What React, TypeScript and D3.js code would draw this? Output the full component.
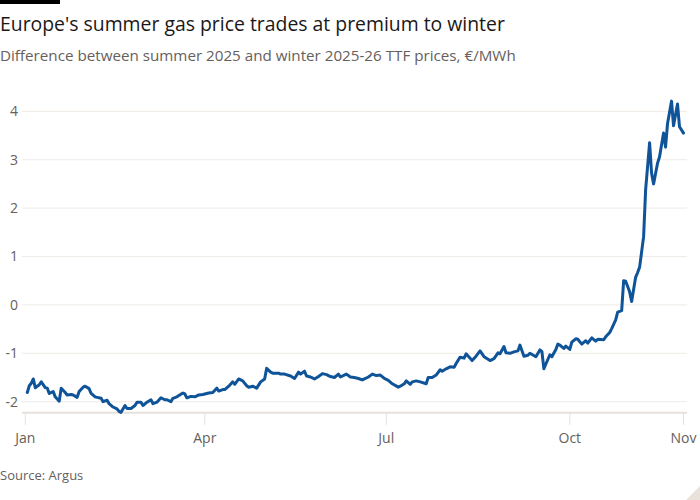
import React from "react";
import * as d3 from "d3";

const title = "Europe's summer gas price trades at premium to winter";
const subtitle = "Difference between summer 2025 and winter 2025-26 TTF prices, €/MWh";
const source = "Source: Argus";

// day offsets from 1 Jan 2025
const dayOffsets = [
  1, 2, 3, 4, 5, 7, 8, 10, 11, 12, 14, 15, 17, 18, 20, 21, 23, 24, 26, 27, 29, 30, 32, 33, 35, 36, 38, 39, 41, 42,
  44, 46, 47, 48, 50, 51, 53, 55, 56, 58, 59, 61, 63, 64, 66, 68, 70, 71, 73, 74, 76, 79, 80, 81, 83, 85, 87, 89, 92, 94,
  96, 97, 99, 100, 102, 104, 105, 107, 109, 111, 112, 114, 116, 118, 120, 121, 123, 124, 127, 128, 130, 133, 135, 137, 138, 140, 141, 143, 145, 147,
  149, 151, 153, 155, 157, 158, 161, 163, 165, 167, 169, 172, 174, 176, 178, 180, 182, 184, 187, 188, 190, 191, 193, 194, 196, 198, 201, 202, 204, 206,
  208, 209, 211, 213, 215, 216, 218, 220, 221, 223, 224, 226, 228, 230, 233, 235, 237, 238, 240, 241, 243, 245, 247, 248, 250, 252, 253, 256, 258, 259,
  260, 261, 263, 264, 266, 267, 268, 270, 271, 273, 274, 276, 277, 279, 281, 282, 284, 286, 287, 290, 291, 293, 294, 296, 297, 299, 300, 301, 303, 304,
  306, 307, 308, 310, 311, 313, 314, 315, 317, 318, 320, 321, 322, 324, 325, 327, 328, 330,
];
const spread = [
  -1.81, -1.67, -1.62, -1.53, -1.71, -1.65, -1.59, -1.71, -1.72, -1.83, -1.79, -1.9, -1.99, -1.72, -1.81, -1.86, -1.85, -1.86, -1.91, -1.79, -1.7, -1.68, -1.73, -1.83, -1.9, -1.91, -1.93, -2.0, -1.97, -2.04,
  -2.11, -2.15, -2.2, -2.22, -2.08, -2.14, -2.14, -2.08, -2.01, -2.01, -2.08, -2.01, -1.96, -2.04, -2.01, -1.92, -1.96, -1.96, -2.0, -1.93, -1.9, -1.82, -1.84, -1.92, -1.89, -1.9, -1.86, -1.85, -1.82, -1.81,
  -1.72, -1.78, -1.75, -1.75, -1.68, -1.59, -1.64, -1.53, -1.57, -1.67, -1.7, -1.68, -1.72, -1.59, -1.53, -1.31, -1.39, -1.41, -1.41, -1.43, -1.43, -1.47, -1.52, -1.39, -1.43, -1.37, -1.47, -1.49, -1.53, -1.48,
  -1.42, -1.44, -1.48, -1.5, -1.43, -1.49, -1.43, -1.49, -1.5, -1.52, -1.55, -1.49, -1.43, -1.46, -1.45, -1.52, -1.56, -1.63, -1.7, -1.68, -1.63, -1.57, -1.64, -1.59, -1.57, -1.59, -1.63, -1.5, -1.5, -1.45,
  -1.34, -1.37, -1.32, -1.28, -1.29, -1.21, -1.08, -1.1, -1.01, -1.1, -1.15, -1.06, -0.95, -1.07, -1.15, -1.11, -0.99, -1.01, -0.86, -0.99, -1.0, -0.97, -0.95, -0.83, -1.06, -1.04, -1.0, -1.07, -0.93, -0.96,
  -1.32, -1.22, -1.03, -1.07, -0.92, -0.81, -0.83, -0.9, -0.85, -0.92, -0.77, -0.7, -0.71, -0.81, -0.74, -0.79, -0.68, -0.75, -0.71, -0.72, -0.66, -0.57, -0.49, -0.31, -0.15, -0.12, 0.5, 0.49, 0.27, 0.07,
  0.57, 0.67, 0.78, 1.41, 2.37, 3.35, 2.72, 2.5, 2.93, 3.06, 3.55, 3.26, 3.75, 4.21, 3.7, 4.15, 3.68, 3.55,
];
const yTicks = [-2, -1, 0, 1, 2, 3, 4];
const xTickLabels = ["Jan", "Apr", "Jul", "Oct", "Nov"];
const xTickDates = ["2025-01-01", "2025-04-01", "2025-07-01", "2025-10-01", "2025-11-27"];

const W = 700;
const H = 500;
const startDate = new Date(2025, 0, 1);

export default function App() {
  const data = dayOffsets.map((d, i) => ({ date: d3.timeDay.offset(startDate, d), value: spread[i] }));
  const parse = d3.timeParse("%Y-%m-%d");
  const x = d3
    .scaleTime()
    .domain([startDate, new Date(2025, 10, 27)])
    .range([25.3, 683.5]);
  const y = d3.scaleLinear().domain([-2, 4]).range([401.7, 111.3]);
  const line = d3
    .line<{ date: Date; value: number }>()
    .x((d) => x(d.date))
    .y((d) => y(d.value))
    .curve(d3.curveLinear);
  const axisY = y(-2.23);
  const gridX0 = 22;
  const gridX1 = 687;
  const font = "'Open Sans', 'Noto Sans', sans-serif";

  return (
    <svg
      width={W}
      height={H}
      viewBox={`0 0 ${W} ${H}`}
      style={{ position: "absolute", left: 0, top: 0, background: "#fff" }}
      fontFamily={font}
    >
      <rect x={0} y={0} width={60} height={4} fill="#000" />
      <text x={0} y={30.5} fontSize={19.4} fill="#1a1817">
        {title}
      </text>
      <text x={0} y={61} fontSize={15.2} fill="#66605c">
        {subtitle}
      </text>
      {yTicks.map((t) => (
        <g key={t}>
          <line x1={gridX0} x2={gridX1} y1={y(t)} y2={y(t)} stroke="#efebe7" strokeWidth={1} />
          <text x={18} y={y(t)} dy="0.35em" textAnchor="end" fontSize={14} fill="#66605c">
            {t}
          </text>
        </g>
      ))}
      <line x1={gridX0} x2={gridX1} y1={axisY} y2={axisY} stroke="#e6e1dc" strokeWidth={2} />
      {xTickDates.map((s, i) => {
        const xx = x(parse(s) as Date);
        return (
          <g key={s}>
            <line x1={xx} x2={xx} y1={axisY} y2={axisY + 12} stroke="#e6e1dc" strokeWidth={1} />
            <text x={xx} y={443} textAnchor="middle" fontSize={14} fill="#66605c">
              {xTickLabels[i]}
            </text>
          </g>
        );
      })}
      <path d={line(data) || ""} fill="none" stroke="#0f5499" strokeWidth={3} strokeLinejoin="round" strokeLinecap="round" />
      <text x={0} y={480} fontSize={13} fill="#66605c">
        {source}
      </text>
      <polygon points={`${W},${H - 14} ${W},${H} ${W - 14},${H}`} fill="#e9e2da" />
    </svg>
  );
}
